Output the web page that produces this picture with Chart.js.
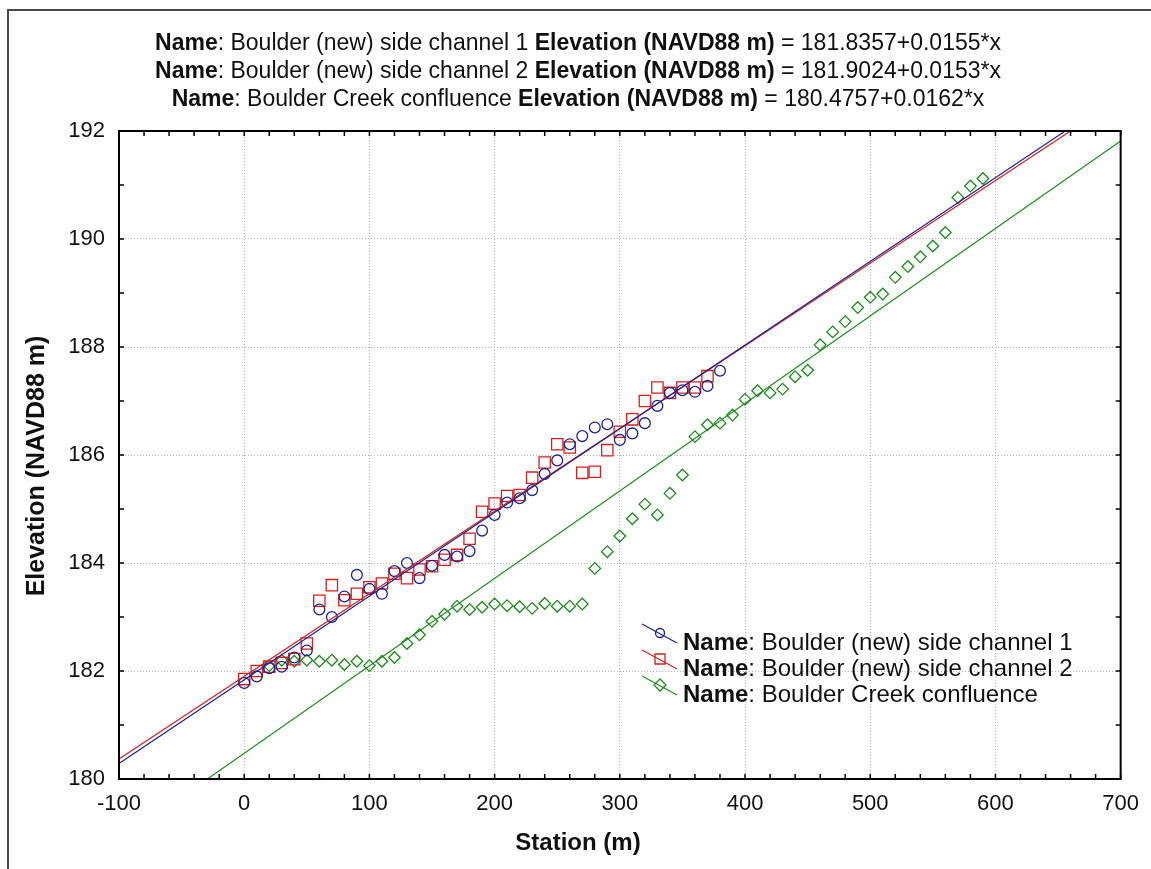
<!DOCTYPE html>
<html>
<head>
<meta charset="utf-8">
<title>Boulder profile</title>
<script src="https://cdn.jsdelivr.net/npm/chart.js@4.4.0/dist/chart.umd.min.js"></script>
<style>
  html, body { margin: 0; padding: 0; background: #fff; }
  #wrap { position: relative; width: 1151px; height: 869px; }
</style>
</head>
<body>
<div id="wrap"><canvas id="profileChart" width="1151" height="869"></canvas></div>
<script>
        // Series names and fitted lines (as printed in the header)
        const seriesNames = ['Boulder (new) side channel 1', 'Boulder (new) side channel 2', 'Boulder Creek confluence'];
        const fitIntercept = [181.8357, 181.9024, 180.4757];
        const fitSlope = [0.0155, 0.0153, 0.0162];
        const fitRange = [-100, 700];

        // Side channel 1 (circles)
        const stations1 = [0, 10, 20, 30, 40, 50, 60, 70, 80, 90, 100, 110, 120, 130, 140, 150, 160, 170, 180, 190,
            200, 210, 220, 230, 240, 250, 260, 270, 280, 290, 300, 310, 320, 330, 340, 350, 360, 370, 380];
        const elev1 = [181.78, 181.90, 182.05, 182.08, 182.25, 182.38, 183.14, 183.00, 183.38, 183.78,
            183.52, 183.43, 183.85, 184.00, 183.72, 183.95, 184.15, 184.12, 184.22, 184.60,
            184.89, 185.12, 185.20, 185.35, 185.65, 185.90, 186.20, 186.35, 186.51, 186.57,
            186.28, 186.40, 186.59, 186.91, 187.15, 187.20, 187.17, 187.28, 187.56];

        // Side channel 2 (squares)
        const stations2 = [0, 10, 20, 30, 40, 50, 60, 70, 80, 90, 100, 110, 120, 130, 140, 150, 160, 170, 180, 190,
            200, 210, 220, 230, 240, 250, 260, 270, 280, 290, 300, 310, 320, 330, 340, 350, 360, 370];
        const elev2 = [181.85, 182.00, 182.08, 182.15, 182.22, 182.51, 183.30, 183.59, 183.31, 183.43,
            183.55, 183.62, 183.80, 183.72, 183.88, 183.94, 184.06, 184.15, 184.45, 184.95,
            185.10, 185.24, 185.26, 185.58, 185.86, 186.20, 186.14, 185.67, 185.69, 186.09,
            186.43, 186.66, 187.00, 187.25, 187.15, 187.25, 187.25, 187.46];

        // Creek confluence (diamonds)
        const stations3 = [20, 30, 40, 50, 60, 70, 80, 90, 100, 110, 120, 130, 140, 150, 160, 170, 180, 190,
            200, 210, 220, 230, 240, 250, 260, 270, 280, 290, 300, 310, 320, 330, 340, 350, 360, 370, 380, 390,
            400, 410, 420, 430, 440, 450, 460, 470, 480, 490, 500, 510, 520, 530, 540, 550, 560, 570, 580, 590];
        const elev3 = [182.10, 182.20, 182.18, 182.20, 182.18, 182.20, 182.12, 182.18, 182.10, 182.18,
            182.25, 182.51, 182.67, 182.92, 183.05, 183.20, 183.14, 183.18, 183.24, 183.21,
            183.19, 183.16, 183.25, 183.20, 183.20, 183.24, 183.90, 184.21, 184.50, 184.82,
            185.09, 184.89, 185.29, 185.63, 186.34, 186.56, 186.59, 186.74, 187.03, 187.19,
            187.15, 187.22, 187.45, 187.57, 188.04, 188.28, 188.47, 188.73, 188.92, 188.98,
            189.29, 189.49, 189.67, 189.87, 190.12, 190.77, 190.98, 191.12];

        // Axis ticks
        const xTicks = [-100, 0, 100, 200, 300, 400, 500, 600, 700];
        const yTicks = [180, 182, 184, 186, 188, 190, 192];

        const colors = {
            ch1: '#1e2290',
            ch2: '#d02020',
            conf: '#1f8a1f',
            grid: '#b0b0b0',
            text: '#111'
        };
        const FONT = '"Liberation Sans", Arial, sans-serif';
        const markerStyles = ['circle', 'rect', 'rectRot'];
        const markerColors = [colors.ch1, colors.ch2, colors.conf];
        const markerRadius = [5.4, 8, 5.8];

        const toPoints = (xs, ys) => xs.map((x, i) => ({ x: x, y: ys[i] }));
        const fitLine = k => fitRange.map(x => ({ x: x, y: fitIntercept[k] + fitSlope[k] * x }));

        function markerDataset(xs, ys, k) {
            return {
                data: toPoints(xs, ys),
                showLine: false,
                pointStyle: markerStyles[k],
                pointRadius: markerRadius[k],
                pointBorderWidth: 1.3,
                borderColor: markerColors[k],
                backgroundColor: 'rgba(0,0,0,0)'
            };
        }
        function lineDataset(k) {
            return {
                data: fitLine(k),
                showLine: true,
                pointRadius: 0,
                borderWidth: 1.2,
                borderColor: markerColors[k],
                backgroundColor: markerColors[k],
                fill: false
            };
        }

        // Rich text: parts = [[text, bold], ...]
        function partsWidth(ctx, parts, size) {
            let w = 0;
            parts.forEach(p => {
                ctx.font = (p[1] ? 'bold ' : '') + size + 'px ' + FONT;
                w += ctx.measureText(p[0]).width;
            });
            return w;
        }
        function drawParts(ctx, parts, x, y, size) {
            parts.forEach(p => {
                ctx.font = (p[1] ? 'bold ' : '') + size + 'px ' + FONT;
                ctx.fillText(p[0], x, y);
                x += ctx.measureText(p[0]).width;
            });
        }

        function drawMarker(ctx, style, x, y, color) {
            ctx.strokeStyle = color;
            ctx.lineWidth = 1.3;
            ctx.beginPath();
            if (style === 'circle') {
                ctx.arc(x, y, 4.5, 0, Math.PI * 2);
            } else if (style === 'rect') {
                ctx.rect(x - 5, y - 5, 10, 10);
            } else {
                ctx.moveTo(x, y - 6); ctx.lineTo(x + 6, y); ctx.lineTo(x, y + 6); ctx.lineTo(x - 6, y); ctx.closePath();
            }
            ctx.stroke();
        }

        const decor = {
            id: 'decor',
            afterDraw(chart) {
                const { ctx, chartArea: a, scales } = chart;
                const sx = scales.x, sy = scales.y;
                ctx.save();

                // outer frame of the exported picture (top and left edges)
                ctx.strokeStyle = '#4a4a4a';
                ctx.lineWidth = 2;
                ctx.beginPath();
                ctx.moveTo(8, 869); ctx.lineTo(8, 10); ctx.lineTo(1151, 10);
                ctx.stroke();

                // plot frame
                ctx.strokeStyle = '#000';
                ctx.lineWidth = 2;
                ctx.strokeRect(a.left, a.top, a.right - a.left, a.bottom - a.top);

                // inward tick marks on all four sides
                ctx.lineWidth = 1.5;
                ctx.beginPath();
                for (let v = xTicks[0]; v <= xTicks[xTicks.length - 1]; v += 20) {
                    const px = sx.getPixelForValue(v);
                    ctx.moveTo(px, a.bottom); ctx.lineTo(px, a.bottom - 5);
                    ctx.moveTo(px, a.top); ctx.lineTo(px, a.top + 5);
                }
                for (let v = yTicks[0]; v <= yTicks[yTicks.length - 1]; v += 1) {
                    const py = sy.getPixelForValue(v);
                    ctx.moveTo(a.left, py); ctx.lineTo(a.left + 5, py);
                    ctx.moveTo(a.right, py); ctx.lineTo(a.right - 5, py);
                }
                ctx.stroke();

                ctx.fillStyle = colors.text;
                ctx.textBaseline = 'middle';
                ctx.textAlign = 'left';

                // header: one row per series with its fitted equation
                const titleY = [44, 72, 100];
                seriesNames.forEach((name, k) => {
                    const eq = fitIntercept[k].toFixed(4) + '+' + fitSlope[k].toFixed(4) + '*x';
                    const parts = [['Name', true], [': ' + name + ' ', false],
                        ['Elevation (NAVD88 m)', true], [' = ' + eq, false]];
                    const w = partsWidth(ctx, parts, 23);
                    drawParts(ctx, parts, 578 - w / 2, titleY[k], 23);
                });

                // legend
                const legendY = [643, 669, 695];
                seriesNames.forEach((name, k) => {
                    const ly = legendY[k];
                    ctx.strokeStyle = markerColors[k];
                    ctx.lineWidth = 1.2;
                    ctx.beginPath();
                    ctx.moveTo(642, ly - 19); ctx.lineTo(677, ly);
                    ctx.stroke();
                    drawMarker(ctx, markerStyles[k], 660, ly - 10, markerColors[k]);
                    ctx.fillStyle = colors.text;
                    drawParts(ctx, [['Name', true], [': ' + name, false]], 683, ly, 24);
                });

                // axis titles
                ctx.font = 'bold 24px ' + FONT;
                ctx.textAlign = 'center';
                ctx.fillText('Station (m)', 578, 843);
                ctx.font = 'bold 25px ' + FONT;
                ctx.save();
                ctx.translate(37, 466);
                ctx.rotate(-Math.PI / 2);
                ctx.fillText('Elevation (NAVD88 m)', 0, 0);
                ctx.restore();

                ctx.restore();
            }
        };

        const ctx = document.getElementById('profileChart').getContext('2d');

        new Chart(ctx, {
            type: 'scatter',
            data: {
                datasets: [
                    lineDataset(0),
                    lineDataset(1),
                    lineDataset(2),
                    markerDataset(stations1, elev1, 0),
                    markerDataset(stations2, elev2, 1),
                    markerDataset(stations3, elev3, 2)
                ]
            },
            options: {
                responsive: false,
                animation: false,
                events: [],
                layout: {
                    padding: { top: 131, right: 26, left: 0, bottom: 0 }
                },
                plugins: {
                    legend: { display: false },
                    title: { display: false },
                    tooltip: { enabled: false }
                },
                scales: {
                    x: {
                        type: 'linear',
                        min: xTicks[0],
                        max: xTicks[xTicks.length - 1],
                        afterBuildTicks: scale => { scale.ticks = xTicks.map(v => ({ value: v })); },
                        afterFit: scale => { scale.height = 90; },
                        grid: { color: colors.grid, lineWidth: 1, drawTicks: false },
                        border: { display: false, dash: [1, 2] },
                        ticks: {
                            color: colors.text,
                            padding: 12,
                            maxRotation: 0,
                            font: { family: FONT, size: 22 }
                        }
                    },
                    y: {
                        type: 'linear',
                        min: yTicks[0],
                        max: yTicks[yTicks.length - 1],
                        afterBuildTicks: scale => { scale.ticks = yTicks.map(v => ({ value: v })); },
                        afterFit: scale => { scale.width = 119; },
                        grid: { color: colors.grid, lineWidth: 1, drawTicks: false },
                        border: { display: false, dash: [1, 2] },
                        ticks: {
                            color: colors.text,
                            padding: 14,
                            font: { family: FONT, size: 22 }
                        }
                    }
                }
            },
            plugins: [decor]
        });
</script>
</body>
</html>
